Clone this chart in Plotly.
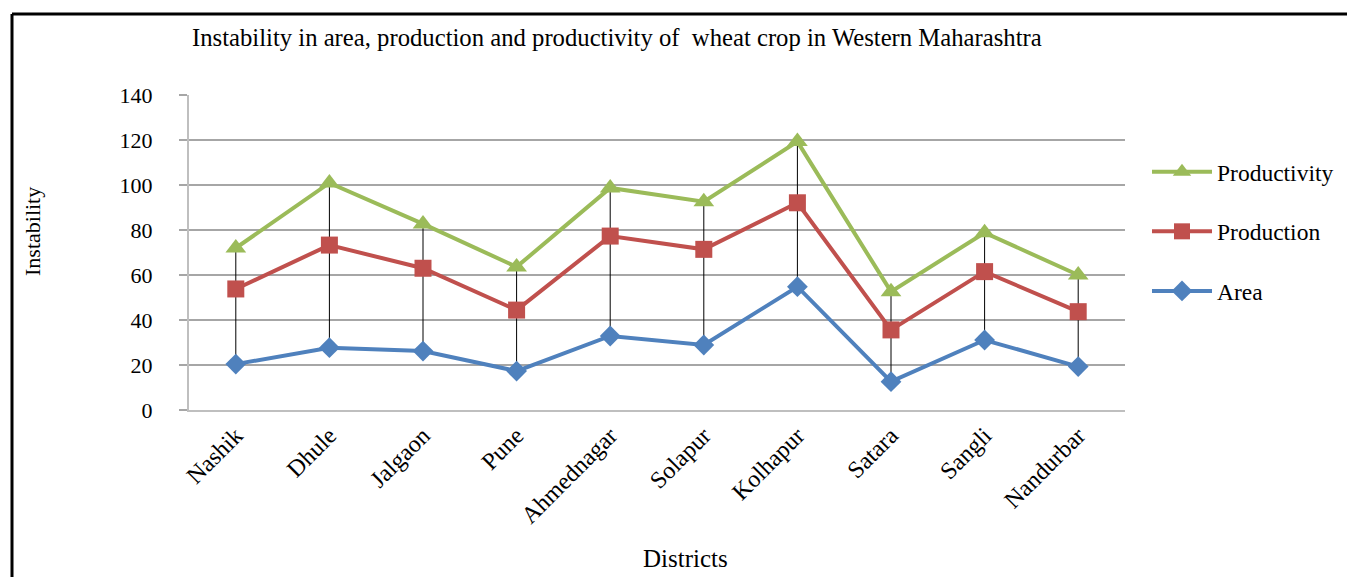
import plotly.graph_objects as go

districts = ["Nashik", "Dhule", "Jalgaon", "Pune", "Ahmednagar", "Solapur",
             "Kolhapur", "Satara", "Sangli", "Nandurbar"]
productivity = [72.0, 100.9, 82.7, 63.6, 98.7, 92.6, 119.3, 52.6, 78.8, 60.0]
production = [53.8, 73.3, 63.0, 44.4, 77.3, 71.4, 92.1, 35.6, 61.5, 43.7]
area = [20.4, 27.7, 26.2, 17.3, 32.9, 28.9, 54.8, 12.6, 31.1, 19.3]

FONT = "Liberation Serif"

fig = go.Figure()

# high-low lines
hx, hy = [], []
for d, lo, hi in zip(districts, area, productivity):
    hx += [d, d, None]
    hy += [lo, hi, None]
fig.add_trace(go.Scatter(x=hx, y=hy, mode="lines", line=dict(color="black", width=1),
                         showlegend=False, hoverinfo="skip"))

fig.add_trace(go.Scatter(x=districts, y=productivity, name="Productivity", mode="lines+markers",
                         line=dict(color="#9BBB59", width=4),
                         marker=dict(symbol="triangle-up", size=18, color="#9BBB59"),
                         legendgroup="g1"))
fig.add_trace(go.Scatter(x=districts, y=production, name="Production", mode="lines+markers",
                         line=dict(color="#C0504D", width=4),
                         marker=dict(symbol="square", size=17, color="#C0504D"),
                         legendgroup="g2"))
fig.add_trace(go.Scatter(x=districts, y=area, name="Area", mode="lines+markers",
                         line=dict(color="#4F81BD", width=4),
                         marker=dict(symbol="diamond", size=16, color="#4F81BD"),
                         legendgroup="g3"))

L, R, T, B = 189, 1125, 95, 410
W, H = 1347, 577
def px(x):
    return (x - L) / (R - L)
def py(y):
    return (B - y) / (B - T)

fig.update_layout(
    width=W, height=H,
    margin=dict(l=L, r=W - R, t=T, b=H - B, pad=0),
    paper_bgcolor="white", plot_bgcolor="white",
    font=dict(family=FONT, size=18, color="black"),
    showlegend=True,
    legend=dict(xref="container", yref="container",
                x=1147 / W, y=1 - 150 / H, xanchor="left", yanchor="top",
                font=dict(family=FONT, size=23.5), tracegroupgap=26,
                itemwidth=60, traceorder="grouped", borderwidth=0,
                bgcolor="rgba(0,0,0,0)"),
    xaxis=dict(type="category", range=[-0.5, 9.5], tickangle=-45, automargin=False,
               showgrid=False, showline=True, linecolor="#BFBFBF", linewidth=2,
               ticks="", tickfont=dict(family=FONT, size=24)),
    yaxis=dict(range=[0, 140], dtick=20, showgrid=True, gridcolor="#A6A6A6", gridwidth=1.5,
               showline=True, linecolor="#BFBFBF", linewidth=2, zeroline=False,
               ticks="outside", ticklen=8, tickcolor="#A6A6A6", tickwidth=1.5,
               ticklabelstandoff=22, automargin=False,
               tickfont=dict(family=FONT, size=22)),
    annotations=[
        dict(text="Instability in area, production and productivity of  wheat crop in Western Maharashtra",
             x=px(617), y=py(38), xref="paper", yref="paper", showarrow=False,
             xanchor="center", yanchor="middle",
             font=dict(family=FONT, size=24.7)),
        dict(text="Instability", x=px(32), y=py(232), xref="paper", yref="paper",
             xanchor="center", yanchor="middle",
             showarrow=False, textangle=-90, font=dict(family=FONT, size=22)),
        dict(text="Districts", x=px(685), y=py(558), xref="paper", yref="paper",
             xanchor="center", yanchor="middle",
             showarrow=False, font=dict(family=FONT, size=25)),
    ],
    shapes=[
        dict(type="line", xref="paper", yref="paper", x0=px(12), x1=px(1350), y0=py(14), y1=py(14),
             line=dict(color="black", width=3)),
        dict(type="line", xref="paper", yref="paper", x0=px(12), x1=px(12), y0=py(14), y1=py(580),
             line=dict(color="black", width=3)),
    ],
)

fig.write_html("out.html")
